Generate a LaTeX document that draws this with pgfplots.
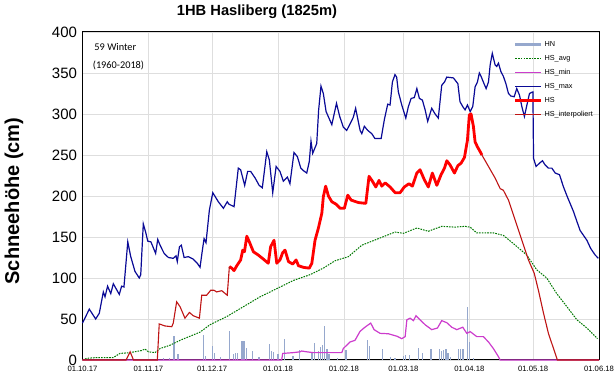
\documentclass[border=0pt]{standalone}
\usepackage{pgfplots}
\pgfplotsset{compat=1.18}
\usepackage{fontspec}
\setmainfont{Liberation Sans}
\newfontfamily\carlito{Carlito}
\definecolor{hncol}{RGB}{150,168,205}
\definecolor{avgcol}{RGB}{0,120,0}
\definecolor{mincol}{RGB}{204,60,204}
\definecolor{maxcol}{RGB}{10,10,150}
\definecolor{hscol}{RGB}{255,0,0}
\definecolor{intcol}{RGB}{190,20,20}
\definecolor{gridcol}{RGB}{222,222,222}
\begin{document}
\begin{tikzpicture}
\useasboundingbox (-82.5pt,-14pt) rectangle (533.5pt,360pt);
\begin{axis}[
  at={(0pt,0pt)}, anchor=south west,
  scale only axis, width=516.5pt, height=328pt,
  xmin=0, xmax=243, ymin=0, ymax=400,
  clip=false,
  xtick={0,31,61,92,123,151,182,212,243},
  xticklabels={01.10.17,01.11.17,01.12.17,01.01.18,01.02.18,01.03.18,01.04.18,01.05.18,01.06.18},
  ytick={0,50,...,400},
  grid=major,
  grid style={gridcol, line width=0.6pt},
  axis line style={black, line width=1pt},
  major tick length=0pt,
  /pgf/number format/assume math mode=true,
  yticklabel style={font=\fontsize{15}{15}\selectfont, xshift=-2pt},
  xticklabel style={font=\fontsize{7.7}{8}\selectfont, yshift=-3pt},
  unbounded coords=jump,
  legend style={at={(0.835,0.978)}, anchor=north west, draw=none, fill=none,
    font=\fontsize{7.3}{8}\selectfont, row sep=3.3pt, inner sep=0pt},
  legend cell align=left,
  legend image code/.code={\draw[#1] (0cm,0cm) -- (0.9cm,0cm);},
]
% HN
\addplot[ycomb, hncol, line width=1.3pt, mark=none,
  legend image code/.code={\draw[hncol, line width=3pt] (0cm,0cm) -- (0.9cm,0cm);}]
coordinates {
(38,2)(41,3)(43,29)(45,7)(57,30)(58,5)(61,17)(62,9)(65,4)(69,35)(71,7)(72,8)(73,8)
(75,23)(76,23)(77,15)(80,11)(83,4)(88,19)(89,11)(90,10)(92,7)(95,26)(99,5)(102,12)
(108,10)(109,21)(111,11)(112,16)(113,18)(114,41)(115,13)(116,7)(120,3)(124,12)
(134,24)(135,17)(141,14)(145,4)(147,3)(151,5)(152,6)(154,6)(158,15)(160,9)(164,13)
(168,13)(169,11)(170,12)(171,13)(172,9)(173,4)(177,13)(178,13)(179,13)(181,65)(182,22)(184,3)
};
\addlegendentry{HN}
% HS_avg
\addplot[avgcol, line width=1pt, dash pattern=on 1.6pt off 1.1pt] coordinates {
(0,0)(2,2)(6.7,3)(14.5,3)(17.6,8)(22.4,9)(27.9,11.6)(29.4,13.4)(31,10)(34.1,9)
(36.5,14)(41.2,18)(45.9,24)(50.6,29)(55.3,34)(60,43)(64.7,49)(67.9,53)(75.7,65)
(83.5,77)(91.4,87)(99.2,97)(107,104)(113.3,112)(118.8,121)(125.1,126)(131.4,140)
(139.2,148)(147,156)(151,154.5)(157.3,161)(162.7,157)(169,163)(175.3,162)(180,163)
(182.4,162)(185.5,155)(193.3,155)(198,152)(202.7,142)(209,128)(213.7,110)(218.4,100)
(223.1,81)(227.9,65)(232.6,49)(237.3,39)(242.3,26)
};
\addlegendentry{HS\_avg}
% HS_min
\addplot[mincol, line width=1.2pt] coordinates {
(0,0)(93.7,0)(94.2,8)(99.2,9)(102.4,10)(103,11)(105.4,10)(108.6,9)(118,9)(122,9)
(122.7,14)(125.9,22)(128.2,24)(130.6,35)(132.9,40)(135.6,45)(137.2,37)(140,32.5)
(143.9,32)(147.9,29)(150.2,26)(151.8,28.5)(152.6,49)(154.1,51)(155.7,48)(156.9,54)
(158.8,49)(161.2,43)(164.3,37)(167,39)(169,48)(171.4,45.5)(173.7,40)(176.1,37)
(178.9,40)(180.8,32.5)(182.4,34.6)(185.5,28.5)(188.6,28.5)(191,22)(193.3,14)
(195.7,4)(196.5,0)(243,0)
};
\addlegendentry{HS\_min}
% HS_max
\addplot[maxcol, line width=1.2pt] coordinates {
(0,45)(3.2,62)(6.2,50)(7.9,57)(9.8,83)(10.6,77)(11.8,90)(13.3,81)(14.5,93)(17.3,80)
(18.4,90)(19.5,89)(21.3,144)(22.7,126)(24.7,108)(26.7,100)(27.4,104)(28.6,166)
(29.7,156)(30.7,145)(32.2,144)(34.4,130)(35.4,147)(36.5,140)(38.4,130)(40.4,125)
(42.7,124)(44,127)(44.6,120)(45.6,138)(46.5,140)(47.8,125)(49.8,126)(52.1,123)
(54,118)(55.3,113)(56.4,134)(57.2,148)(58.1,143)(59.7,183)(61.3,204)(63.9,193)
(66.3,185)(68.1,193)(68.9,190)(71.3,187)(73.3,234)(74.4,232)(76.3,213)(77.7,230)
(79.1,230)(81.2,222)(83.1,213)(84.6,210)(86.7,254)(87.9,244)(89.5,204)(91.1,236)
(92.9,230)(94.5,218)(96.4,223)(97.6,215)(99.5,253)(101.1,248)(102.7,234)(103.9,231)
(105.5,228)(106.7,242)(107.5,267)(108.3,252)(110.2,264)(111.1,305)(112.2,334)
(113.3,325)(114.6,303)(117.3,287)(119.5,313)(121,297)(122.7,284)(124.3,280)
(125.9,288)(127.4,296)(128.5,307)(130.6,280)(131.4,276)(132.6,285)(134.2,280)
(136.1,276)(137.6,270)(140.5,270)(142,293)(143.6,312)(144.7,311)(145.8,339)(147,348)
(147.8,345)(148.6,327)(150.2,311)(152.1,295)(153.3,309)(154.6,319)(156.1,320)
(157.3,331)(158.5,319)(159.9,317)(161.2,305)(162.4,291)(164.3,307)(165.9,300)
(167.4,295)(169,335)(170.3,339)(171.4,345)(174.5,344)(176.6,337)(177.6,315)
(178.9,309)(180,305)(181.1,311)(182.4,303)(183.6,309)(184.7,333)(185.8,339)
(186.7,350)(187.5,346)(188.9,337)(189.9,331)(191,339)(191.8,360)(192.8,374)
(194.1,360)(194.9,358)(195.7,362)(196.8,352)(198,346)(199.2,337)(200.4,325)
(201.5,322)(203.1,321)(204.3,331)(205.6,323)(206.7,309)(207.9,297)(209,310)
(210.3,325)(211.9,327)(212.2,246)(213.4,236)(215,240)(216.4,243)(217.6,238)
(219.2,234)(220.8,234)(222.4,228)(224.4,226)(226.3,211)(228.1,199)(229.4,191)
(231,181)(232.6,169)(234.1,158)(235.7,152)(237.3,146)(239.1,136)(241.2,128)(242.7,124)
};
\addlegendentry{HS\_max}
% HS
\addplot[hscol, line width=2.8pt, line join=round] coordinates {
(69.1,114)(70.2,112)(71.3,109)(72.6,115)(74.4,122)(75.4,134)(76.2,132)(77.3,151)
(78.5,144)(80.4,132)(82.7,128)(85.1,123)(87.4,118)(88.5,138)(90.1,146)(91.4,118)
(92.9,122)(94.2,131)(95.3,134)(96.9,120)(98.9,117)(100.5,122)(101.6,115)(103.9,113)
(106.7,112)(107.9,118)(109.4,146)(111,161)(112.6,179)(113.3,199)(114.4,212)(115.7,200)
(117.3,193)(119.3,190)(121.2,185)(123.2,185)(124.8,201)(126.4,195)(129.8,192)
(133.3,191)(134.8,224)(136.4,218)(138,211)(139.5,219)(140.8,212)(142.4,216)
(144.7,211)(147.1,204)(149.4,204)(151.4,211)(153.6,215)(155.2,212)(157.3,228)
(158.8,232)(160.8,220)(162.7,211)(164.6,228)(166.7,213)(168.7,226)(170.3,234)
(171.4,243)(172.9,238)(175,228)(176.6,237)(178.1,240)(179.7,247)(181.1,268)
(182,299)(182.8,300)(183.9,285)(184.7,266)(185.8,260)(187.1,254)(187.9,250)
};
\addlegendentry{HS}
% HS_interpoliert
\addplot[intcol, line width=1.1pt] coordinates {
(0,0)(20.5,0)(22.4,10)(24,0)(35.2,0)(36.1,44)(38.8,41.5)(42,40.6)(42.7,45)(44.3,71)
(45.9,65)(48.2,51)(50.3,58)(52.1,54)(55,51)(56.1,79)(58.4,79)(60.3,85)(61.9,85)
(63.1,83)(65.5,84.5)(68.1,79)(69.1,114)
(100,nan)
(187.9,250)(191,236)(194.1,222)(196.5,209)(198,207)(200.4,195)(203.5,171)
(206.7,146)(209.8,122)(212.5,106)(214.5,85)(216.9,57)(219.2,32.5)(221.6,14)
(223.4,0)(243,0)
};
\addlegendentry{HS\_interpoliert}
\end{axis}
\node[font=\bfseries\fontsize{14.7}{16}\selectfont] at (174.5pt,348pt) {1HB Hasliberg (1825m)};
\node[rotate=90, font=\bfseries\fontsize{20}{22}\selectfont] at (-68.5pt,159pt) {Schneehöhe (cm)};
\node[anchor=west, inner sep=0pt, font=\carlito\fontsize{10.3}{12}\selectfont] at (11.8pt,312.7pt) {59 Winter};
\node[anchor=west, inner sep=0pt, font=\carlito\fontsize{10.3}{12}\selectfont] at (10.2pt,295pt) {(1960-2018)};
\end{tikzpicture}
\end{document}
